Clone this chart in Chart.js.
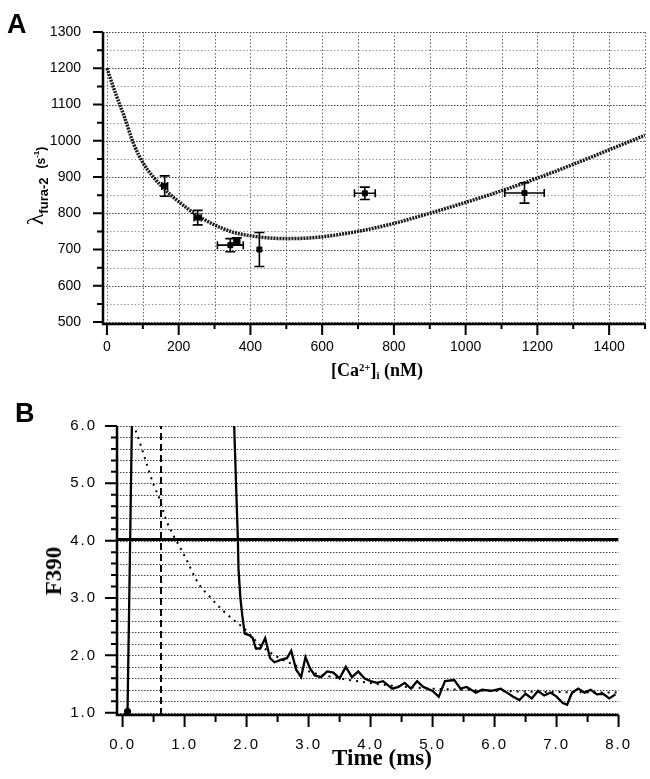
<!DOCTYPE html>
<html><head><meta charset="utf-8">
<script src="https://cdn.jsdelivr.net/npm/chart.js@4/dist/chart.umd.min.js"></script>
<style>
body{margin:0;background:#fff;width:650px;height:779px;position:relative;overflow:hidden}
canvas{position:absolute;left:0}
#ca{top:0}
#cb{top:390px}
.lbl{position:absolute;white-space:nowrap;color:#000;line-height:1}
.sup{font-size:0.6em;position:relative;top:-0.5em}
.sub{font-size:0.6em;position:relative;top:0.25em}
</style></head><body>
<canvas id="ca" width="650" height="390"></canvas>
<canvas id="cb" width="650" height="389"></canvas>

<div class="lbl" style="left:7px;top:9px;font:bold 27px 'Liberation Sans',Arial,sans-serif">A</div>
<div class="lbl" style="left:15px;top:398px;font:bold 27px 'Liberation Sans',Arial,sans-serif">B</div>

<div class="lbl" style="left:35px;top:186px;transform:translate(-50%,-50%) rotate(-90deg)"><span style="font:24px 'Liberation Serif',serif">λ</span><span style="font:bold 13px 'Liberation Sans',Arial,sans-serif;position:relative;top:5px">fura-2</span><span style="display:inline-block;width:9px"></span><span style="font:bold 12px 'Liberation Sans',Arial,sans-serif;position:relative;top:2px">(s<span style="font-size:8px;position:relative;top:-6px">-1</span>)</span></div>
<div class="lbl" style="left:377px;top:360px;transform:translateX(-50%);font:bold 18px 'Liberation Serif',serif">[Ca<span class="sup">2+</span>]<span class="sub">i</span> (nM)</div>

<div class="lbl" style="left:54px;top:571px;transform:translate(-50%,-50%) rotate(-90deg);font:bold 23px 'Liberation Serif',serif">F390</div>
<div class="lbl" style="left:382px;top:745px;transform:translateX(-50%);font:bold 23px 'Liberation Serif',serif">Time (ms)</div>

<script>
// ---------- Panel A data ----------
const caConc     = [161, 253, 344, 362, 425, 719, 1164];
const lambdaFura = [875, 788, 712, 722, 700, 855, 856];
const caErr      = [8, 10, 36, 8, 0, 29, 55];
const lambdaErr  = [28, 20, 18, 10, 47, 17, 28];
const fitCa      = [0, 25, 50, 75, 100, 125, 150, 175, 200, 250, 300, 350, 400, 450, 500, 550, 600, 700, 800, 900, 1000, 1100, 1200, 1300, 1400, 1500];
const fitLambda  = [1200, 1128, 1062, 990, 940, 905, 877, 853, 832, 795, 768, 748, 738, 732, 730, 731, 735, 750, 772, 800, 830, 862, 897, 935, 975, 1015];
const aXLabelTicks = [0, 200, 400, 600, 800, 1000, 1200, 1400];
const aXMinorTicks = [100, 300, 500, 700, 900, 1100, 1300, 1500];
const aYLabelTicks = [500, 600, 700, 800, 900, 1000, 1100, 1200, 1300];
const aYMinorTicks = [550, 650, 750, 850, 950, 1050, 1150, 1250];

// ---------- Panel B data ----------
const traceTime = [0.08, 0.15, 0.17, 1.79, 1.80, 1.86, 1.87, 1.90, 1.93, 1.97, 2.05, 2.10, 2.15, 2.22, 2.30, 2.38, 2.45, 2.55, 2.65, 2.72, 2.80, 2.88, 2.95, 3.02, 3.10, 3.20, 3.30, 3.40, 3.50, 3.60, 3.70, 3.80, 3.90, 4.00, 4.10, 4.20, 4.35, 4.45, 4.55, 4.65, 4.75, 4.85, 5.00, 5.10, 5.20, 5.35, 5.45, 5.55, 5.70, 5.80, 5.95, 6.10, 6.20, 6.30, 6.40, 6.50, 6.60, 6.70, 6.80, 6.90, 7.00, 7.10, 7.17, 7.25, 7.35, 7.45, 7.55, 7.65, 7.75, 7.85, 7.95];
const traceF390 = [1.02, 6.0, 6.6, 6.6, 6.0, 4.0, 3.5, 3.0, 2.7, 2.38, 2.35, 2.30, 2.12, 2.12, 2.30, 1.95, 1.88, 1.92, 1.95, 2.08, 1.75, 1.62, 1.97, 1.78, 1.65, 1.62, 1.72, 1.70, 1.60, 1.80, 1.62, 1.72, 1.60, 1.55, 1.52, 1.55, 1.42, 1.45, 1.52, 1.42, 1.55, 1.45, 1.38, 1.28, 1.55, 1.57, 1.42, 1.45, 1.35, 1.40, 1.38, 1.42, 1.35, 1.28, 1.22, 1.33, 1.25, 1.38, 1.30, 1.35, 1.28, 1.17, 1.14, 1.35, 1.42, 1.35, 1.40, 1.32, 1.33, 1.25, 1.32];
const fitTime = [0.21, 0.27, 0.35, 0.43, 0.51, 0.60, 0.70, 0.82, 0.95, 1.03, 1.22, 1.40, 1.61, 1.82, 1.95, 2.2, 2.5, 2.8, 3.06, 3.5, 3.84, 4.35, 5.0, 5.5, 6.0, 7.0, 8.0];
const fitF390 = [5.92, 5.74, 5.47, 5.2, 4.95, 4.72, 4.37, 4.09, 3.84, 3.67, 3.26, 3.03, 2.79, 2.59, 2.48, 2.2, 1.97, 1.82, 1.70, 1.60, 1.54, 1.47, 1.42, 1.40, 1.38, 1.36, 1.35];
const thresholdF390 = 4.02;
const markerTime = 0.62;
const bXLabelTicks = [0, 1, 2, 3, 4, 5, 6, 7, 8];
const bXMinorTicks = [0.5, 1.5, 2.5, 3.5, 4.5, 5.5, 6.5, 7.5];
const bYLabelTicks = [1, 2, 3, 4, 5, 6];
const bYMinorTicks = [1.2, 1.4, 1.6, 1.8, 2.2, 2.4, 2.6, 2.8, 3.2, 3.4, 3.6, 3.8, 4.2, 4.4, 4.6, 4.8, 5.2, 5.4, 5.6, 5.8];

const SANS = "'Liberation Sans', Arial, sans-serif";
const pts = (xs, ys) => xs.map((v, i) => ({x: v, y: ys[i]}));

function framePlugin(cfg) {
  return {
    id: 'frame',
    beforeDraw(chart) { if (cfg.letterSpacing) chart.ctx.letterSpacing = cfg.letterSpacing; },
    beforeDatasetsDraw(chart) {
      const {ctx, chartArea: a, scales: {x, y}} = chart;
      ctx.save();
      ctx.lineWidth = 1;
      cfg.hGrid.forEach(g => {
        const py = Math.round(y.getPixelForValue(g.v)) + 0.5;
        ctx.strokeStyle = g.c; ctx.setLineDash(g.d);
        ctx.beginPath(); ctx.moveTo(a.left, py); ctx.lineTo(a.right, py); ctx.stroke();
      });
      (cfg.vGrid || []).forEach(g => {
        const px = Math.round(x.getPixelForValue(g.v)) + 0.5;
        ctx.strokeStyle = g.c; ctx.setLineDash(g.d);
        ctx.beginPath(); ctx.moveTo(px, a.top); ctx.lineTo(px, a.bottom); ctx.stroke();
      });
      ctx.restore();
    },
    afterDatasetsDraw(chart) {
      const {ctx, chartArea: a, scales: {x, y}} = chart;
      ctx.save();
      ctx.setLineDash([]);
      ctx.strokeStyle = '#000';
      if (cfg.errors) {
        ctx.lineWidth = 1.6;
        cfg.errors.forEach(e => {
          const px = x.getPixelForValue(e.x), py = y.getPixelForValue(e.y);
          if (e.ey) {
            const t = y.getPixelForValue(e.y + e.ey), b = y.getPixelForValue(e.y - e.ey);
            ctx.beginPath();
            ctx.moveTo(px, t); ctx.lineTo(px, b);
            ctx.moveTo(px - 5, t); ctx.lineTo(px + 5, t);
            ctx.moveTo(px - 5, b); ctx.lineTo(px + 5, b);
            ctx.stroke();
          }
          if (e.ex) {
            const l = x.getPixelForValue(e.x - e.ex), r = x.getPixelForValue(e.x + e.ex);
            ctx.beginPath();
            ctx.moveTo(l, py); ctx.lineTo(r, py);
            ctx.moveTo(l, py - 4); ctx.lineTo(l, py + 4);
            ctx.moveTo(r, py - 4); ctx.lineTo(r, py + 4);
            ctx.stroke();
          }
        });
      }
      // axes
      ctx.lineWidth = cfg.axisWidth;
      ctx.beginPath();
      ctx.moveTo(a.left, a.top); ctx.lineTo(a.left, a.bottom); ctx.lineTo(a.right, a.bottom);
      ctx.stroke();
      // ticks
      ctx.lineWidth = 2;
      ctx.beginPath();
      cfg.yMajor.forEach(v => { const p = y.getPixelForValue(v); ctx.moveTo(a.left, p); ctx.lineTo(a.left - cfg.yMajLen, p); });
      cfg.yMinor.forEach(v => { const p = y.getPixelForValue(v); ctx.moveTo(a.left, p); ctx.lineTo(a.left - cfg.yMinLen, p); });
      cfg.xMajor.forEach(v => { const p = x.getPixelForValue(v); ctx.moveTo(p, a.bottom); ctx.lineTo(p, a.bottom + cfg.xMajLen); });
      cfg.xMinor.forEach(v => { const p = x.getPixelForValue(v); ctx.moveTo(p, a.bottom); ctx.lineTo(p, a.bottom + cfg.xMinLen); });
      ctx.stroke();
      ctx.restore();
    }
  };
}

// ---------- Chart A ----------
const aHGrid = aYLabelTicks.map(v => ({v, c: '#444', d: [1.5, 1.5]}))
  .concat(aYMinorTicks.map(v => ({v, c: '#999', d: [1.5, 2]})));
const aVGrid = aXLabelTicks.concat(aXMinorTicks).map(v => ({v, c: '#666', d: [1.5, 2]}));

new Chart(document.getElementById('ca'), {
  type: 'scatter',
  data: {
    datasets: [
      {
        data: pts(fitCa, fitLambda), showLine: true, borderColor: '#1a1a1a', borderWidth: 3.5,
        borderDash: [2, 1], pointRadius: 0, cubicInterpolationMode: 'monotone', fill: false
      },
      {
        data: pts(caConc, lambdaFura), showLine: false, pointStyle: 'rect', pointRadius: 3.5,
        backgroundColor: '#000', borderColor: '#000', borderWidth: 1
      }
    ]
  },
  options: {
    responsive: false, animation: false, events: [],
    layout: {padding: {left: 0, right: 2, top: 32, bottom: 0}},
    plugins: {legend: {display: false}, tooltip: {enabled: false}},
    scales: {
      x: {
        type: 'linear', min: -11, max: 1500,
        afterBuildTicks: s => { s.ticks = aXLabelTicks.map(v => ({value: v})); },
        afterFit: s => { s.height = 66; },
        grid: {display: false, drawTicks: false}, border: {display: false},
        ticks: {autoSkip: false, maxRotation: 0, padding: 15, color: '#000', font: {family: SANS, size: 14},
                callback: v => String(v)}
      },
      y: {
        type: 'linear', min: 494.5, max: 1300,
        afterBuildTicks: s => { s.ticks = aYLabelTicks.map(v => ({value: v})); },
        afterFit: s => { s.width = 103; },
        grid: {display: false, drawTicks: false}, border: {display: false},
        ticks: {autoSkip: false, padding: 22, color: '#000', font: {family: SANS, size: 14},
                callback: v => String(v)}
      }
    }
  },
  plugins: [framePlugin({
    hGrid: aHGrid, vGrid: aVGrid,
    errors: caConc.map((c, i) => ({x: c, y: lambdaFura[i], ex: caErr[i], ey: lambdaErr[i]})),
    axisWidth: 2.5,
    yMajor: aYLabelTicks, yMinor: aYMinorTicks, yMajLen: 10, yMinLen: 6,
    xMajor: aXLabelTicks, xMinor: aXMinorTicks, xMajLen: 11, xMinLen: 5
  })]
});

// ---------- Chart B ----------
const bHGrid = bYLabelTicks.concat(bYMinorTicks).map(v => ({v, c: '#444', d: [1.5, 1.5]}));

new Chart(document.getElementById('cb'), {
  type: 'scatter',
  data: {
    datasets: [
      {
        data: pts(fitTime, fitF390), showLine: true, borderColor: '#000', borderWidth: 2,
        borderDash: [2, 5], pointRadius: 0, cubicInterpolationMode: 'monotone', fill: false
      },
      {
        data: [{x: markerTime, y: 0.96}, {x: markerTime, y: 6}], showLine: true, borderColor: '#000',
        borderWidth: 2, borderDash: [7, 4], pointRadius: 0
      },
      {
        data: [{x: -0.09, y: thresholdF390}, {x: 8, y: thresholdF390}], showLine: true, borderColor: '#000',
        borderWidth: 3, pointRadius: 0
      },
      {
        data: pts(traceTime, traceF390), showLine: true, borderColor: '#000', borderWidth: 2.3,
        pointRadius: c => c.dataIndex === 0 ? 2.5 : 0, backgroundColor: '#000', tension: 0
      }
    ]
  },
  options: {
    responsive: false, animation: false, events: [],
    layout: {padding: {left: 0, right: 12, top: 36, bottom: 0}},
    plugins: {legend: {display: false}, tooltip: {enabled: false}},
    scales: {
      x: {
        type: 'linear', min: -0.09, max: 8,
        afterBuildTicks: s => { s.ticks = bXLabelTicks.map(v => ({value: v})); },
        afterFit: s => { s.height = 64; },
        grid: {display: false, drawTicks: false}, border: {display: false},
        ticks: {autoSkip: false, maxRotation: 0, padding: 21, color: '#000', font: {family: SANS, size: 15},
                callback: v => Number(v).toFixed(1)}
      },
      y: {
        type: 'linear', min: 0.96, max: 6,
        afterBuildTicks: s => { s.ticks = bYLabelTicks.map(v => ({value: v})); },
        afterFit: s => { s.width = 117; },
        grid: {display: false, drawTicks: false}, border: {display: false},
        ticks: {autoSkip: false, padding: 20, color: '#000', font: {family: SANS, size: 15},
                callback: v => Number(v).toFixed(1)}
      }
    }
  },
  plugins: [framePlugin({
    letterSpacing: '2px',
    hGrid: bHGrid,
    axisWidth: 2.5,
    yMajor: bYLabelTicks, yMinor: bYMinorTicks, yMajLen: 12, yMinLen: 6,
    xMajor: bXLabelTicks, xMinor: bXMinorTicks, xMajLen: 12, xMinLen: 7
  })]
});
</script>
</body></html>
